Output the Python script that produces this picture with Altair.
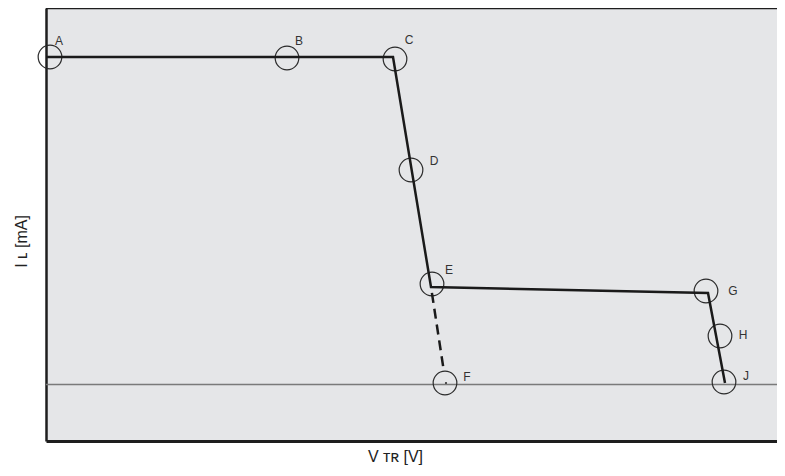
import altair as alt
import pandas as pd

# Values (arbitrary units: V_TR along x, I_L along y)
x_domain = [0, 731]
y_domain = [2, 435]

path_x = [0, 347, 385, 662, 679]
path_y = [386, 386, 156, 150, 60]

dash_x = [385, 398]
dash_y = [156, 71]

point_names = ["A", "B", "C", "D", "E", "F", "G", "H", "J"]
point_x = [4, 241, 349, 365, 386, 399, 660, 674, 678]
point_y = [386, 385, 384, 273, 159, 60, 152, 107, 61]

label_x = [13, 253, 363, 388, 403, 421, 687, 697, 700]
label_y = [402, 402, 403, 282, 173, 66, 152, 108, 67]

f_dot_x = [400]
f_dot_y = [60]

ref_level = [58.5]
top_level = [y_domain[1]]

FONT = "Liberation Sans"
X_TITLE = "V \u1d1b\u0280 [V]"
Y_TITLE = "I  \u029f [mA]"


def xenc():
    return alt.X(
        "x:Q",
        scale=alt.Scale(domain=x_domain, nice=False, zero=False),
        axis=alt.Axis(
            title=X_TITLE, labels=False, ticks=False, grid=False,
            domainColor="#1e1e1e", domainWidth=3,
            titleX=349, titleY=20, titleAlign="center", titleBaseline="alphabetic",
            titleFont=FONT, titleFontSize=16, titleFontWeight="normal", titleColor="#222222",
        ),
    )


def yenc():
    return alt.Y(
        "y:Q",
        scale=alt.Scale(domain=y_domain, nice=False, zero=False),
        axis=alt.Axis(
            title=Y_TITLE, labels=False, ticks=False, grid=False,
            domainColor="#1e1e1e", domainWidth=2.5,
            titleX=-20, titleY=233, titleAngle=270, titleAlign="center",
            titleBaseline="alphabetic",
            titleFont=FONT, titleFontSize=16, titleFontWeight="normal", titleColor="#222222",
        ),
    )


path_df = pd.DataFrame({"x": path_x, "y": path_y, "o": list(range(len(path_x)))})
dash_df = pd.DataFrame({"x": dash_x, "y": dash_y, "o": list(range(len(dash_x)))})
pts_df = pd.DataFrame({"x": point_x, "y": point_y, "name": point_names})
lab_df = pd.DataFrame({"x": label_x, "y": label_y, "name": point_names})
dot_df = pd.DataFrame({"x": f_dot_x, "y": f_dot_y})
ref_df = pd.DataFrame({"y": ref_level})
top_df = pd.DataFrame({"y": top_level})

ref_line = alt.Chart(ref_df).mark_rule(color="#7a7a7a", strokeWidth=1.5).encode(y=yenc())
top_line = alt.Chart(top_df).mark_rule(color="#1e1e1e", strokeWidth=2.5).encode(y=yenc())

circles = alt.Chart(pts_df).mark_point(
    shape="circle", filled=False, size=560, color="#2a2a2a", strokeWidth=1.2, opacity=1
).encode(x=xenc(), y=yenc())

dot = alt.Chart(dot_df).mark_point(
    shape="circle", filled=True, size=5, color="#333333", opacity=1
).encode(x=xenc(), y=yenc())

solid = alt.Chart(path_df).mark_line(color="#1a1a1a", strokeWidth=2.5).encode(
    x=xenc(), y=yenc(), order="o:Q"
)

dashed = alt.Chart(dash_df).mark_line(
    color="#1a1a1a", strokeWidth=2.5, strokeDash=[10, 6], strokeDashOffset=10
).encode(x=xenc(), y=yenc(), order="o:Q")

labels = alt.Chart(lab_df).mark_text(
    font=FONT, fontSize=12, color="#333333", align="center", baseline="middle"
).encode(x=xenc(), y=yenc(), text="name:N")

chart = (
    alt.layer(ref_line, circles, dot, dashed, solid, top_line, labels)
    .properties(
        width=731,
        height=433,
        autosize=alt.AutoSizeParams(type="none"),
        padding={"left": 38, "top": 0, "right": 0, "bottom": 24},
        background="#ffffff",
    )
    .configure_view(fill="#e5e6e8", stroke="transparent", strokeWidth=0)
)

chart.save("out.html", embed_options={"renderer": "svg", "actions": False})
